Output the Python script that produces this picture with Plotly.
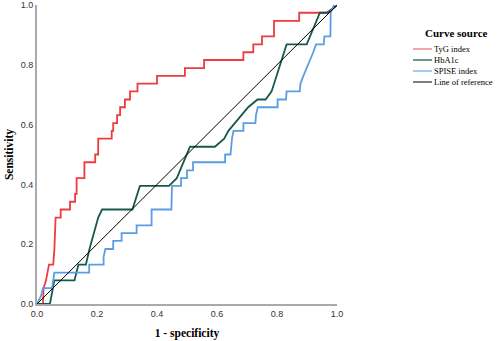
import plotly.graph_objects as go

# ROC curve data (1 - specificity, sensitivity)
tyg_fpr = [0, 0.02, 0.022, 0.03, 0.04, 0.054, 0.058, 0.062, 0.079, 0.079, 0.11, 0.11, 0.127, 0.127,
           0.132, 0.132, 0.158, 0.158, 0.194, 0.194, 0.204, 0.204, 0.249, 0.249, 0.254, 0.254,
           0.267, 0.267, 0.277, 0.277, 0.293, 0.293, 0.31, 0.31, 0.335, 0.335, 0.40, 0.40,
           0.493, 0.493, 0.557, 0.557, 0.688, 0.688, 0.721, 0.721, 0.75, 0.75, 0.79, 0.79,
           0.874, 0.874, 0.966, 1.0]
tyg_sens = [0, 0, 0.053, 0.079, 0.132, 0.132, 0.184, 0.289, 0.289, 0.316, 0.316, 0.342, 0.342, 0.368,
            0.368, 0.421, 0.421, 0.474, 0.474, 0.5, 0.5, 0.553, 0.553, 0.579, 0.579, 0.605,
            0.605, 0.632, 0.632, 0.658, 0.658, 0.684, 0.684, 0.711, 0.711, 0.737, 0.737, 0.763,
            0.763, 0.789, 0.789, 0.816, 0.816, 0.842, 0.842, 0.868, 0.868, 0.895, 0.895, 0.947,
            0.947, 0.974, 0.974, 1.0]

hba_fpr = [0, 0.043, 0.058, 0.125, 0.138, 0.163, 0.175, 0.204, 0.217, 0.318, 0.343, 0.44, 0.466,
           0.51, 0.593, 0.624, 0.638, 0.66, 0.704, 0.735, 0.762, 0.782, 0.832, 0.899, 0.943,
           0.971, 1.0]
hba_sens = [0, 0, 0.079, 0.079, 0.132, 0.132, 0.184, 0.289, 0.316, 0.316, 0.395, 0.395, 0.421,
            0.526, 0.526, 0.553, 0.579, 0.605, 0.658, 0.684, 0.684, 0.711, 0.868, 0.868, 0.974,
            0.974, 1.0]

spise_fpr = [0, 0.013, 0.02, 0.05, 0.058, 0.174, 0.174, 0.222, 0.222, 0.228, 0.254, 0.254, 0.282,
             0.282, 0.332, 0.332, 0.382, 0.382, 0.448, 0.45, 0.48, 0.48, 0.5, 0.5, 0.52, 0.52,
             0.627, 0.627, 0.645, 0.647, 0.65, 0.655, 0.688, 0.688, 0.728, 0.73, 0.736, 0.802,
             0.802, 0.83, 0.832, 0.876, 0.878, 0.888, 0.9, 0.91, 0.921, 0.93, 0.956, 0.958,
             0.978, 0.979, 0.99, 1.0]
spise_sens = [0, 0.026, 0.053, 0.053, 0.105, 0.105, 0.132, 0.132, 0.158, 0.184, 0.184, 0.211, 0.211,
              0.237, 0.237, 0.263, 0.263, 0.316, 0.316, 0.395, 0.395, 0.421, 0.421, 0.447, 0.447,
              0.474, 0.474, 0.5, 0.5, 0.526, 0.553, 0.579, 0.579, 0.605, 0.605, 0.632, 0.658,
              0.658, 0.684, 0.684, 0.711, 0.711, 0.737, 0.763, 0.789, 0.816, 0.842, 0.868, 0.868,
              0.895, 0.895, 0.974, 1.0, 1.0]

ref_x = [0, 1]
ref_y = [0, 1]

series_names = ["TyG index", "HbA1c", "SPISE index", "Line of reference"]
legend_title = "Curve source"
tick_vals = [0, 0.2, 0.4, 0.6, 0.8, 1.0]
tick_text = ["0.0", "0.2", "0.4", "0.6", "0.8", "1.0"]

colors = ["#ee3b3f", "#17594c", "#5b9de3", "#000000"]
widths = [1.8, 1.8, 1.8, 1.0]
legend_colors = ["#f08a8c", "#3f7468", "#8ab8ea", "#555555"]

fig = go.Figure()
for name, xs, ys, c, w in zip(series_names,
                              [tyg_fpr, hba_fpr, spise_fpr, ref_x],
                              [tyg_sens, hba_sens, spise_sens, ref_y],
                              colors, widths):
    fig.add_trace(go.Scatter(x=xs, y=ys, mode="lines", name=name,
                             line=dict(color=c, width=w), showlegend=False))

serif = "Liberation Serif"
sans = "Liberation Sans"

W, H = 500, 341
ML, MR, MT, MB = 37, 163, 5, 37
pw, ph = W - ML - MR, H - MT - MB


def px_x(x):
    return (x - ML) / pw


def px_y(y):
    return (H - MB - y) / ph


# manual compact legend (paper coordinates)
fig.add_annotation(text="<b>" + legend_title + "</b>", xref="paper", yref="paper",
                   x=px_x(456), y=px_y(33), showarrow=False, xanchor="center", yanchor="middle",
                   font=dict(family=serif, size=11, color="#000"))
for i, (name, lc) in enumerate(zip(series_names, legend_colors)):
    yy = 49 + 11 * i
    fig.add_shape(type="line", xref="paper", yref="paper",
                  x0=px_x(413), x1=px_x(432), y0=px_y(yy), y1=px_y(yy),
                  line=dict(color=lc, width=1.5))
    fig.add_annotation(text=name, xref="paper", yref="paper",
                       x=px_x(432), y=px_y(yy), showarrow=False, xanchor="left", yanchor="middle",
                       font=dict(family=serif, size=8.5, color="#000"))

fig.update_layout(
    width=W, height=H,
    margin=dict(l=ML, r=MR, t=MT, b=MB, autoexpand=False),
    paper_bgcolor="white", plot_bgcolor="white",
    showlegend=False,
)
fig.update_xaxes(
    range=[0, 1], tickvals=tick_vals, ticktext=tick_text,
    showgrid=False, zeroline=False, showline=True, linecolor="#aaaaaa", linewidth=2,
    ticks="", tickfont=dict(family=sans, size=9, color="#333"),
    title=dict(text="<b>1 - specificity</b>", font=dict(family=serif, size=11.5, color="#000"),
               standoff=11),
)
fig.update_yaxes(
    range=[0, 1], tickvals=tick_vals, ticktext=tick_text,
    showgrid=False, zeroline=False, showline=True, linecolor="#aaaaaa", linewidth=2,
    ticks="", tickfont=dict(family=sans, size=9, color="#333"),
    title=dict(text="<b>Sensitivity</b>", font=dict(family=serif, size=11.5, color="#000"),
               standoff=5),
)

fig.write_html("out.html",
               config={"displayModeBar": False},
               post_script="document.body.style.margin='0';document.body.style.overflow='hidden';")
